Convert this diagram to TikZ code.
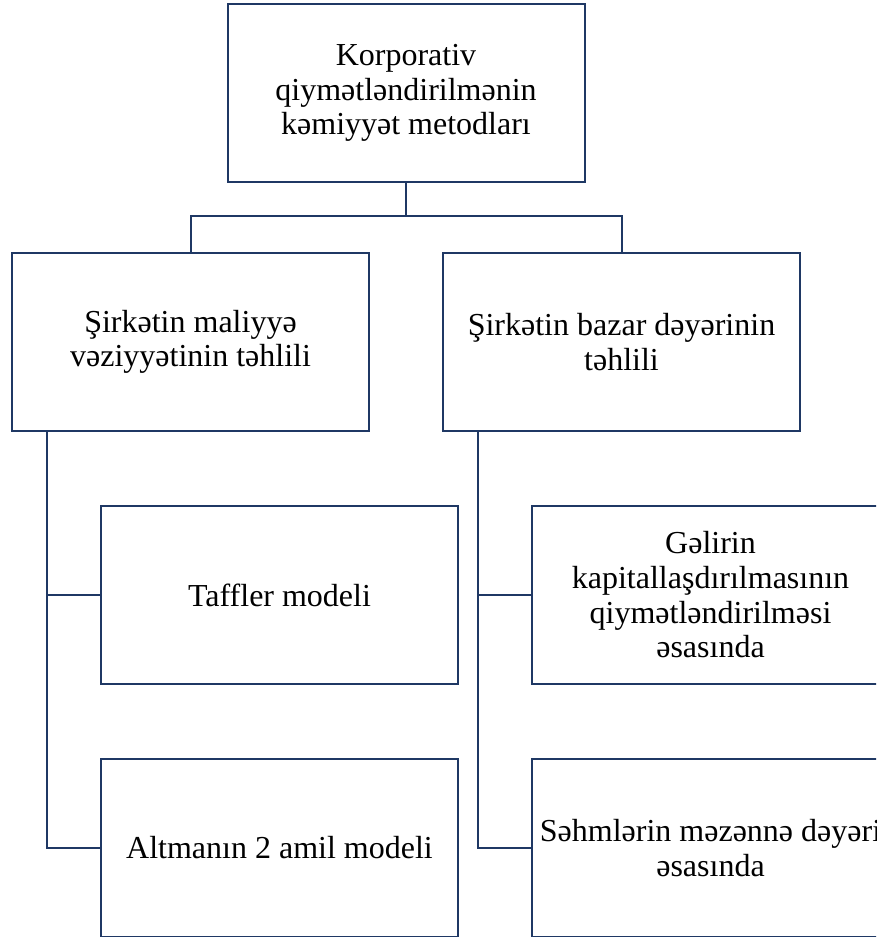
\documentclass[tikz,border=0pt]{standalone}
\usepackage{fontspec}
\setmainfont{Liberation Serif}
\usetikzlibrary{positioning}
\definecolor{chartblue}{RGB}{31,56,100}
\tikzset{
	box/.style={rectangle,draw=chartblue,line width=1.5pt,minimum width=267.75pt,minimum height=133.5pt,align=center,inner sep=0pt,font=\fontsize{24}{26}\selectfont},
	link/.style={draw=chartblue,line width=1.5pt}
}
\begin{document}
\begin{tikzpicture}[x=0.75pt,y=-0.75pt,node distance=189.75pt]
	\useasboundingbox (0,0) rectangle (876,937);
	\clip (0,0) rectangle (876,937);

	\node (valuation methods) [box] at (406,93) {Korporativ\\qiymətləndirilmənin\\kəmiyyət metodları};

	\node (financial analysis) [box] at (190.5,342) {Şirkətin maliyyə\\vəziyyətinin təhlili};
	\node (market analysis) [box,right of=financial analysis,node distance=323.25pt] {Şirkətin bazar dəyərinin\\təhlili};

	\node (taffler model) [box] at (279.5,595) {Taffler modeli};
	\node (altman model) [box,below of=taffler model] {Altmanın 2 amil modeli};

	\node (income capitalization) [box] at (710.5,595) {Gəlirin\\kapitallaşdırılmasının\\qiymətləndirilməsi\\əsasında};
	\node (share price) [box,below of=income capitalization] {Səhmlərin məzənnə dəyəri\\əsasında};

	\coordinate (branch) at ([yshift=-24.75pt]valuation methods.south);
	\draw[link] (valuation methods.south) -- (branch);
	\draw[link] (branch) -| (financial analysis.north);
	\draw[link] (branch) -| (market analysis.north);

	\draw[link] ([xshift=27pt]financial analysis.south west) |- (taffler model.west);
	\draw[link] ([xshift=27pt]financial analysis.south west) |- (altman model.west);
	\draw[link] ([xshift=27pt]market analysis.south west) |- (income capitalization.west);
	\draw[link] ([xshift=27pt]market analysis.south west) |- (share price.west);

\end{tikzpicture}
\end{document}
